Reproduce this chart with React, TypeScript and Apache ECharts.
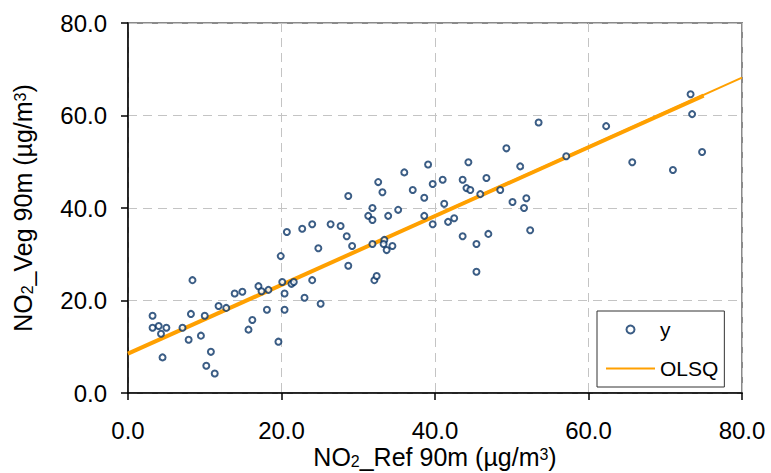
import React, { useEffect, useRef } from "react";
import * as echarts from "echarts";

// Scatter data (x = NO2_Ref 90m, y = NO2_Veg 90m)
const refX: number[] = [
  3.2, 3.2, 4.0, 4.3, 5.0, 4.5, 8.4, 8.2, 7.1, 7.9, 10.0, 9.5, 10.8, 10.2, 11.3, 11.8, 12.8, 13.9, 14.9, 15.7,
  16.2, 17.0, 17.4, 18.3, 18.1, 19.6, 19.9, 20.1, 20.4, 20.4, 20.7, 21.3, 21.6, 22.7, 24.0, 23.0, 24.8, 25.1,
  24.0, 26.4, 27.7, 28.5, 28.7, 28.7, 29.2, 31.3, 31.85, 31.85, 31.85, 32.1, 32.4, 32.6, 33.15, 33.4, 33.3,
  33.7, 34.45, 33.9, 35.2, 36.0, 37.1, 38.6, 39.1, 38.6, 39.7, 39.7, 41.0, 41.2, 41.7,
  42.5, 43.6, 43.6, 44.1, 44.6, 44.35, 45.4, 45.4, 45.9, 46.7, 46.95, 48.5, 49.3, 50.1, 51.1, 51.6, 51.9,
  52.4, 53.5, 57.1, 62.3, 65.7, 71.0, 73.3, 73.5, 74.8,
];
const vegY: number[] = [
  16.7, 14.1, 14.5, 12.8, 14.1, 7.7, 24.4, 17.1, 14.1, 11.5, 16.7, 12.4, 8.9, 5.9, 4.2, 18.8, 18.4, 21.5, 21.9, 13.7,
  15.8, 23.1, 22.0, 22.3, 18.0, 11.1, 29.6, 24.0, 21.5, 18.0, 34.8, 23.6, 24.0, 35.5, 24.4, 20.6, 31.3, 19.3,
  36.5, 36.5, 36.1, 33.9, 42.6, 27.5, 31.8, 38.3, 40.0, 37.4, 32.2, 24.4, 25.3, 45.6, 43.4, 33.1, 32.2,
  30.9, 31.8, 38.3, 39.6, 47.7, 43.9, 42.2, 49.4, 38.3, 45.2, 36.5, 46.1, 40.9, 37.0,
  37.8, 46.1, 33.9, 44.3, 43.9, 49.9, 32.2, 26.2, 43.0, 46.5, 34.4, 43.9, 52.9, 41.3, 49.0, 40.0, 42.1,
  35.2, 58.5, 51.2, 57.7, 49.9, 48.2, 64.6, 60.3, 52.1,
];

// OLSQ regression line (full axis range) and the fitted segment over the data range
const olsqX: number[] = [0, 80];
const olsqY: number[] = [8.5, 68.2];
const fitX: number[] = [0, 75];
const fitY: number[] = [8.5, 64.3];

// Axis ticks
const axisMin = 0;
const axisMax = 80;
const axisStep = 20;

const FONT = "Arial, 'Liberation Sans', sans-serif";

const titleRich = {
  a: { fontSize: 25, lineHeight: 25, verticalAlign: "middle", color: "#000", fontFamily: FONT },
  s: { fontSize: 16, lineHeight: 16, padding: [16, 0, 0, 0], verticalAlign: "bottom", color: "#000", fontFamily: FONT },
  p: { fontSize: 16, lineHeight: 16, padding: [2, 0, 0, 0], verticalAlign: "top", color: "#000", fontFamily: FONT },
};

export default function App() {
  const ref = useRef<HTMLDivElement>(null);

  useEffect(() => {
    if (!ref.current) return;
    const chart = echarts.init(ref.current, null, { renderer: "svg" });
    const scatterData = refX.map((x, i) => [x, vegY[i]]);
    const olsqData = olsqX.map((x, i) => [x, olsqY[i]]);
    const fitData = fitX.map((x, i) => [x, fitY[i]]);

    const axisCommon = {
      type: "value",
      min: axisMin,
      max: axisMax,
      interval: axisStep,
      nameLocation: "middle",
      nameMoveOverlap: false,
      axisLine: { show: true, onZero: false, lineStyle: { color: "#000", width: 1.5 } },
      axisTick: { show: true, inside: false, length: 7, lineStyle: { color: "#000", width: 1.5 } },
      axisLabel: {
        color: "#000",
        fontSize: 24,
        fontFamily: FONT,
        formatter: (v: number) => v.toFixed(1),
      },
      splitLine: { show: true, lineStyle: { color: "#c4c4c4", type: [9, 6], width: 1 } },
    };

    chart.setOption({
      animation: false,
      backgroundColor: "#fff",
      textStyle: { fontFamily: FONT },
      grid: {
        left: 128,
        right: 29,
        top: 23,
        bottom: 80,
        containLabel: false,
        outerBoundsMode: "none",
        show: true,
        borderColor: "#8a8a8a",
        borderWidth: 2,
        backgroundColor: "#fff",
      },
      legend: {
        orient: "vertical",
        left: 597,
        top: 311,
        padding: [8, 6, 8, 8],
        itemGap: 18,
        itemWidth: 49,
        itemHeight: 8,
        borderColor: "#333",
        borderWidth: 1,
        backgroundColor: "#fff",
        textStyle: { fontSize: 21, color: "#000", fontFamily: FONT },
        data: [
          { name: "y" },
          { name: "OLSQ", itemStyle: { opacity: 0 } },
        ],
      },
      xAxis: {
        ...axisCommon,
        name: "{a|NO}{s|2}{a|_Ref 90m (µg/m}{p|3}{a|)}",
        nameGap: 51,
        nameTextStyle: { rich: titleRich },
        axisLabel: { ...axisCommon.axisLabel, margin: 25 },
      },
      yAxis: {
        ...axisCommon,
        name: "{a|NO}{s|2}{a|_Veg 90m (µg/m}{p|3}{a|)}",
        nameGap: 93,
        nameRotate: 90,
        nameTextStyle: { rich: titleRich },
        axisLabel: { ...axisCommon.axisLabel, margin: 21 },
      },
      series: [
        {
          name: "OLSQ",
          type: "line",
          data: olsqData,
          symbol: "none",
          lineStyle: { color: "#ffa000", width: 2 },
          itemStyle: { color: "#ffa000" },
          z: 2,
        },
        {
          name: "fit",
          type: "line",
          data: fitData,
          symbol: "none",
          lineStyle: { color: "#ffa000", width: 4 },
          itemStyle: { color: "#ffa000" },
          z: 3,
        },
        {
          name: "y",
          type: "scatter",
          data: scatterData,
          symbol: "emptyCircle",
          symbolSize: 6,
          itemStyle: { color: "#0a3566", borderColor: "#0a3566", borderWidth: 2 },
          z: 4,
        },
      ],
    });
    return () => chart.dispose();
  }, []);

  return <div ref={ref} style={{ width: 771, height: 473, position: "absolute", left: 0, top: 0 }} />;
}
